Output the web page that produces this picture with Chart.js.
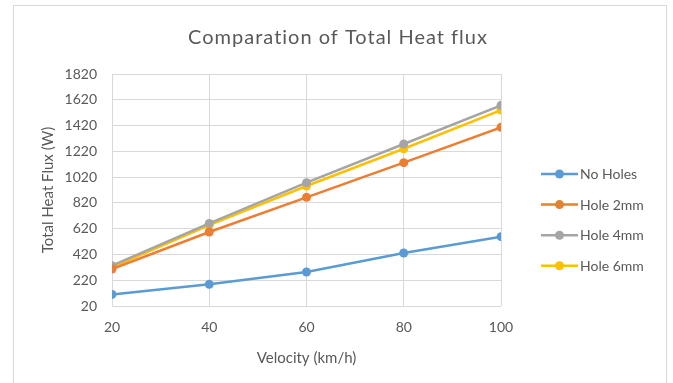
<!DOCTYPE html>
<html>
<head>
<meta charset="utf-8">
<script src="https://cdn.jsdelivr.net/npm/chart.js@4/dist/chart.umd.min.js"></script>
<style>
  html, body { margin: 0; padding: 0; background: #ffffff; }
  #wrap { width: 673px; height: 383px; position: relative; }
</style>
</head>
<body>
<div id="wrap"><canvas id="c" width="673" height="383"></canvas></div>
<script>
const velocities = [20, 40, 60, 80, 100];
const noHoles = [110, 188, 284, 431, 558];
const hole2mm = [307, 594, 863, 1132, 1406];
const hole4mm = [333, 661, 977, 1277, 1577];
const hole6mm = [320, 648, 951, 1240, 1540];
const seriesNames = ['No Holes', 'Hole 2mm', 'Hole 4mm', 'Hole 6mm'];
const seriesColors = ['#5b9bd5', '#ed7d31', '#a5a5a5', '#ffc000'];
const yTicks = [20, 220, 420, 620, 820, 1020, 1220, 1420, 1620, 1820];
const xTicks = [20, 40, 60, 80, 100];
const chartTitle = 'Comparation of Total Heat flux';

const FONT = 'Lato, "Open Sans", sans-serif';
const TXT = '#595959';

const allSeries = [noHoles, hole2mm, hole4mm, hole6mm];
const datasets = allSeries.map((vals, i) => ({
  label: seriesNames[i],
  data: velocities.map((v, j) => ({ x: v, y: vals[j] })),
  borderColor: seriesColors[i],
  backgroundColor: seriesColors[i],
  borderWidth: 2.5,
  pointRadius: 4.5,
  pointHoverRadius: 4.5,
  pointBorderWidth: 0,
  tension: 0
}));

const frame = {
  id: 'frame',
  beforeDraw(chart) {
    const ctx = chart.ctx;
    ctx.save();
    ctx.fillStyle = '#ffffff';
    ctx.fillRect(0, 0, chart.width, chart.height);
    ctx.strokeStyle = '#d9d9d9';
    ctx.lineWidth = 1;
    ctx.strokeRect(13.5, 5.5, 653, 400);
    ctx.fillStyle = TXT;
    ctx.font = '20px ' + FONT;
    try { ctx.letterSpacing = '1px'; } catch (e) {}
    ctx.textAlign = 'center';
    ctx.textBaseline = 'middle';
    ctx.fillText(chartTitle, 338, 38);
    ctx.restore();
  }
};

const customLegend = {
  id: 'customLegend',
  afterDraw(chart) {
    const ctx = chart.ctx;
    ctx.save();
    chart.data.datasets.forEach((ds, i) => {
      const y = 174 + i * 30.6;
      ctx.strokeStyle = ds.borderColor;
      ctx.lineWidth = 2.5;
      ctx.beginPath();
      ctx.moveTo(541, y);
      ctx.lineTo(578, y);
      ctx.stroke();
      ctx.fillStyle = ds.borderColor;
      ctx.beginPath();
      ctx.arc(559.5, y, 4.5, 0, Math.PI * 2);
      ctx.fill();
      ctx.fillStyle = TXT;
      ctx.font = '14px ' + FONT;
      ctx.textBaseline = 'middle';
      ctx.textAlign = 'left';
      ctx.fillText(ds.label, 580, y + 0.5);
    });
    ctx.restore();
  }
};

new Chart(document.getElementById('c'), {
  type: 'line',
  data: { datasets },
  plugins: [frame, customLegend],
  options: {
    responsive: false,
    animation: false,
    layout: { padding: { left: 20, right: 172, top: 74, bottom: 5 } },
    plugins: {
      legend: { display: false },
      tooltip: { enabled: false },
      title: { display: false }
    },
    scales: {
      x: {
        type: 'linear',
        min: 20, max: 100,
        afterBuildTicks(scale) { scale.ticks = xTicks.map(v => ({ value: v })); },
        afterFit(scale) { scale.height = 72; },
        grid: { color: '#d9d9d9', lineWidth: 1, drawTicks: false },
        border: { display: false },
        ticks: { color: TXT, font: { family: FONT, size: 14 }, padding: 13, maxRotation: 0,
                 callback: (v) => String(v) },
        title: {
          display: true, text: 'Velocity (km/h)', color: TXT,
          font: { family: FONT, size: 15 }, padding: { top: 0, bottom: 11 }
        }
      },
      y: {
        min: 20, max: 1820,
        afterBuildTicks(scale) { scale.ticks = yTicks.map(v => ({ value: v })); },
        afterFit(scale) { scale.width = 92; },
        grid: { color: '#d9d9d9', lineWidth: 1, drawTicks: false },
        border: { display: false },
        ticks: { color: TXT, font: { family: FONT, size: 14 }, padding: 15,
                 callback: (v) => String(v) },
        title: {
          display: true, text: 'Total Heat Flux (W)', color: TXT,
          font: { family: FONT, size: 15 }, padding: { top: 19, bottom: 0 }
        }
      }
    }
  }
});
</script>
</body>
</html>
